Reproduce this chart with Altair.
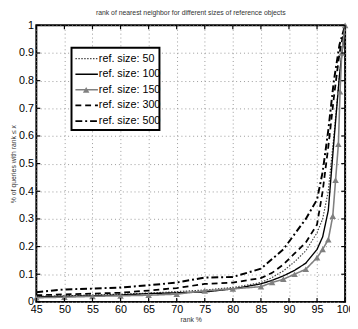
import altair as alt
import pandas as pd

series = ["ref. size: 50", "ref. size: 100", "ref. size: 150", "ref. size: 300", "ref. size: 500"]

rank = [45, 50, 55, 60, 65, 70, 75, 80, 85, 87, 89, 91, 93, 95, 96, 97, 98, 99, 100]
size50 = [0.020, 0.022, 0.025, 0.028, 0.032, 0.037, 0.043, 0.052, 0.070, 0.088, 0.112, 0.145, 0.185, 0.25, 0.30, 0.40, 0.60, 0.82, 1.0]
size100 = [0.018, 0.020, 0.022, 0.025, 0.030, 0.033, 0.036, 0.047, 0.065, 0.078, 0.094, 0.114, 0.14, 0.19, 0.235, 0.33, 0.58, 0.82, 1.0]
size300 = [0.024, 0.027, 0.030, 0.033, 0.041, 0.050, 0.065, 0.070, 0.086, 0.105, 0.135, 0.175, 0.215, 0.28, 0.40, 0.56, 0.74, 0.90, 1.0]
size500 = [0.035, 0.045, 0.048, 0.052, 0.060, 0.070, 0.088, 0.090, 0.120, 0.155, 0.19, 0.245, 0.30, 0.37, 0.47, 0.62, 0.80, 0.93, 1.0]

rank150 = [45, 50, 55, 60, 65, 70, 75, 80, 85, 87, 89, 91, 93, 95, 96, 97, 97.8, 98.3, 98.8, 99.1, 99.4, 100]
size150 = [0.015, 0.017, 0.020, 0.022, 0.024, 0.028, 0.040, 0.047, 0.055, 0.070, 0.082, 0.100, 0.118, 0.160, 0.19, 0.225, 0.31, 0.44, 0.57, 0.76, 0.90, 1.0]

x_ticks = [45, 50, 55, 60, 65, 70, 75, 80, 85, 90, 95, 100]
y_ticks = [0, 0.1, 0.2, 0.3, 0.4, 0.5, 0.6, 0.7, 0.8, 0.9, 1]

rows = []
for name, vals in [(series[0], size50), (series[1], size100), (series[3], size300), (series[4], size500)]:
    for r, v in zip(rank, vals):
        rows.append({"series": name, "rank": r, "value": v})
for r, v in zip(rank150, size150):
    rows.append({"series": series[2], "rank": r, "value": v})
df = pd.DataFrame(rows)

leg = pd.DataFrame({"series": series})
xt = pd.DataFrame({"t": x_ticks})
yt = pd.DataFrame({"t": y_ticks})

FONT = "Liberation Sans"
W, H = 316, 283

color_scale = alt.Scale(domain=series, range=["#444444", "#000000", "#808080", "#000000", "#000000"])
dash_scale = alt.Scale(domain=series, range=[[1.5, 1.5], [1, 0], [1, 0], [6, 4], [7, 3, 2, 3]])
width_scale = alt.Scale(domain=series, range=[1.2, 2, 2, 2.5, 2.5])

xs = alt.Scale(domain=[45, 100], nice=False)
ys = alt.Scale(domain=[0, 1], nice=False)

x_axis = alt.Axis(values=x_ticks, title="rank %", ticks=False, domain=False,
                  grid=True, gridDash=[1, 3], gridColor="#999999", gridWidth=1,
                  labelFontSize=11, labelFont=FONT, labelColor="#000000", labelPadding=2,
                  labelOverlap=False, labelFlush=False, labelBound=False,
                  titleFontSize=7, titleFontWeight="normal", titleColor="#333333",
                  titlePadding=1, titleFont=FONT)

lines = alt.Chart(df).mark_line().encode(
    x=alt.X("rank:Q", scale=xs, axis=x_axis),
    y=alt.Y("value:Q", scale=ys,
            axis=alt.Axis(values=y_ticks, title="% of queries with rank \u2264 x", ticks=False, domain=False,
                          grid=True, gridDash=[1, 3], gridColor="#999999", gridWidth=1,
                          labelFontSize=11, labelFont=FONT, labelColor="#000000", labelPadding=3,
                          labelOverlap=False,
                          labelExpr="datum.value == 0 ? '0' : datum.value == 1 ? '1' : format(datum.value, '.1f')",
                          titleFontSize=7, titleFontWeight="normal", titleColor="#333333",
                          titlePadding=2, titleFont=FONT)),
    color=alt.Color("series:N", scale=color_scale, legend=None),
    strokeDash=alt.StrokeDash("series:N", scale=dash_scale, legend=None),
    strokeWidth=alt.StrokeWidth("series:N", scale=width_scale, legend=None),
    detail="series:N",
)

tri = alt.Chart(df).transform_filter(alt.datum.series == series[2]).mark_point(
    shape="triangle-up", filled=True, size=45, color="#808080", opacity=1
).encode(
    x=alt.X("rank:Q", scale=xs, axis=x_axis),
    y=alt.Y("value:Q", scale=ys, axis=None),
)

tick_b = alt.Chart(xt).mark_rule(color="#000000", strokeWidth=1.2).encode(
    x=alt.X("t:Q", scale=xs, axis=x_axis), y=alt.value(H), y2=alt.value(H - 4))
tick_t = alt.Chart(xt).mark_rule(color="#000000", strokeWidth=1.2).encode(
    x=alt.X("t:Q", scale=xs, axis=x_axis), y=alt.value(0), y2=alt.value(4))
tick_l = alt.Chart(yt).mark_rule(color="#000000", strokeWidth=1.2).encode(
    y=alt.Y("t:Q", scale=ys, axis=None), x=alt.value(0), x2=alt.value(4))
tick_r = alt.Chart(yt).mark_rule(color="#000000", strokeWidth=1.2).encode(
    y=alt.Y("t:Q", scale=ys, axis=None), x=alt.value(W), x2=alt.value(W - 4))

box = alt.Chart(leg).transform_filter(alt.datum.series == series[0]).mark_rect(
    fill="#ffffff", stroke="#000000", strokeWidth=2
).encode(x=alt.value(36), x2=alt.value(126), y=alt.value(23), y2=alt.value(107))

leg_y = alt.Y("series:N", scale=alt.Scale(type="point", domain=series, range=[34, 98], padding=0), axis=None)

leg_lines = alt.Chart(leg).mark_rule().encode(
    x=alt.value(40), x2=alt.value(63),
    y=leg_y,
    color=alt.Color("series:N", scale=color_scale, legend=None),
    strokeDash=alt.StrokeDash("series:N", scale=dash_scale, legend=None),
    strokeWidth=alt.StrokeWidth("series:N", scale=width_scale, legend=None),
)
leg_tri = alt.Chart(leg).transform_filter(alt.datum.series == series[2]).mark_point(
    shape="triangle-up", filled=True, size=45, color="#808080", opacity=1
).encode(x=alt.value(51), y=leg_y)
leg_text = alt.Chart(leg).mark_text(
    align="left", baseline="middle", fontSize=11, font=FONT, color="#000000"
).encode(x=alt.value(64), y=leg_y, text="series:N")

chart = alt.layer(
    lines, tri, tick_b, tick_t, tick_l, tick_r, box, leg_lines, leg_tri, leg_text
).resolve_scale(y="independent").properties(
    width=W, height=H,
    title=alt.TitleParams("rank of nearest neighbor for different sizes of reference objects",
                          fontSize=7, fontWeight="normal", color="#333333", offset=4,
                          font=FONT, anchor="middle"),
    autosize=alt.AutoSizeParams(type="none"),
    padding={"left": 29, "top": 14, "right": 5, "bottom": 24},
).configure_view(stroke="#000000", strokeWidth=2).configure_axisX(labelOverlap=False)

chart.save("out.html", embed_options={"renderer": "svg", "actions": False})
